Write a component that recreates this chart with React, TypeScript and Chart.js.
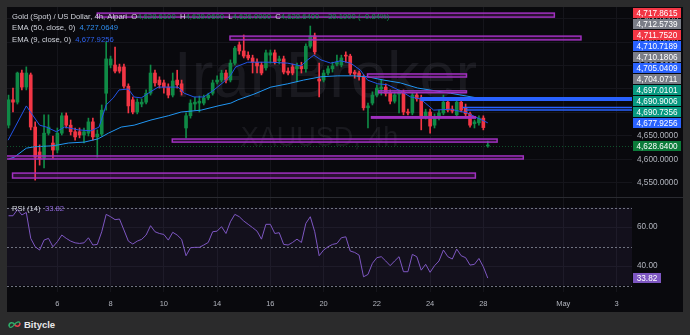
import React, { useEffect, useRef } from "react";
import { Chart, registerables } from "chart.js";

Chart.register(...registerables);

// ---------------- data ----------------
const FIRST_BAR = -11; // bar index of the first visible 4h candle (bar 0 = Apr 6, 00:00)

const opens = [
  4673, 4727, 4722, 4784, 4754, 4780, 4669, 4616, 4603, 4656, 4635,
  4620, 4656, 4693, 4673, 4659, 4659, 4652, 4656, 4680, 4648, 4654,
  4741, 4801, 4801, 4797, 4797, 4756, 4727, 4701, 4718, 4722, 4741,
  4784, 4769, 4763, 4754, 4737, 4769, 4761, 4667, 4693, 4718, 4720,
  4720, 4731, 4741, 4765, 4769, 4784, 4769, 4805, 4844, 4831, 4822,
  4816, 4807, 4801, 4795, 4822, 4827, 4810, 4814, 4788, 4797, 4793,
  4799, 4793, 4841, 4863, 4771, 4769, 4784, 4793, 4803, 4801, 4822,
  4820, 4786, 4784, 4776, 4710, 4720, 4737, 4750, 4754, 4741, 4724,
  4739, 4744, 4701, 4699, 4737, 4731, 4690, 4701, 4673, 4690, 4699,
  4722, 4707, 4695, 4722, 4710, 4697, 4676, 4678, 4688, 4628.61,
];
const highs = [
  4737, 4752, 4786, 4790, 4797, 4784, 4680, 4631, 4695, 4695, 4650,
  4667, 4699, 4699, 4684, 4667, 4667, 4667, 4688, 4688, 4663, 4716,
  4850, 4820, 4839, 4803, 4803, 4761, 4733, 4729, 4729, 4748, 4801,
  4790, 4776, 4769, 4761, 4784, 4790, 4769, 4699, 4727, 4733, 4735,
  4737, 4741, 4769, 4778, 4790, 4790, 4812, 4841, 4850, 4865, 4829,
  4822, 4814, 4807, 4833, 4833, 4833, 4820, 4820, 4795, 4803, 4805,
  4807, 4846, 4884, 4869, 4805, 4790, 4799, 4807, 4822, 4822, 4829,
  4824, 4790, 4788, 4780, 4720, 4744, 4759, 4769, 4761, 4748, 4744,
  4748, 4748, 4707, 4741, 4741, 4737, 4707, 4707, 4697, 4705, 4737,
  4727, 4714, 4729, 4727, 4718, 4701, 4684, 4693, 4693, 4639.06,
];
const lows = [
  4667, 4701, 4718, 4748, 4748, 4663, 4556, 4588, 4582, 4652, 4603,
  4614, 4652, 4667, 4652, 4641, 4646, 4635, 4650, 4641, 4605, 4650,
  4705, 4795, 4784, 4784, 4752, 4699, 4697, 4697, 4712, 4718, 4737,
  4756, 4752, 4741, 4731, 4733, 4752, 4737, 4646, 4688, 4705, 4701,
  4716, 4727, 4737, 4761, 4765, 4763, 4765, 4801, 4824, 4816, 4812,
  4784, 4784, 4780, 4790, 4805, 4803, 4803, 4782, 4780, 4780, 4765,
  4784, 4786, 4837, 4824, 4733, 4765, 4780, 4786, 4799, 4797, 4807,
  4780, 4773, 4769, 4705, 4667, 4716, 4733, 4737, 4735, 4718, 4720,
  4699, 4695, 4695, 4695, 4724, 4663, 4686, 4656, 4667, 4684, 4695,
  4701, 4699, 4688, 4701, 4693, 4669, 4667, 4673, 4663, 4626,
];
const closes = [
  4727, 4722, 4784, 4754, 4784, 4669, 4605, 4601, 4656, 4669, 4620,
  4656, 4693, 4673, 4659, 4648, 4652, 4659, 4680, 4648, 4654, 4705,
  4814, 4814, 4788, 4788, 4756, 4714, 4701, 4722, 4722, 4741, 4784,
  4763, 4759, 4754, 4737, 4767, 4759, 4744, 4693, 4720, 4722, 4724,
  4731, 4737, 4763, 4769, 4784, 4769, 4805, 4837, 4831, 4820, 4816,
  4807, 4799, 4784, 4827, 4827, 4807, 4814, 4786, 4784, 4784, 4799,
  4793, 4841, 4863, 4829, 4767, 4784, 4793, 4799, 4807, 4816, 4820,
  4784, 4782, 4776, 4710, 4714, 4737, 4752, 4754, 4741, 4724, 4737,
  4744, 4701, 4699, 4737, 4729, 4688, 4701, 4671, 4690, 4699, 4722,
  4705, 4703, 4722, 4705, 4697, 4673, 4680, 4688, 4667.8, 4628.64,
];

const rsiValues = [
  65.8, 65.8, 69.0, 66.2, 67.5, 54.2, 49.9, 48.2, 53.3, 54.2, 49.9,
  52.5, 55.9, 54.2, 52.8, 51.9, 51.6, 51.9, 54.5, 50.8, 51.1, 57.6,
  66.5, 65.3, 63.8, 64.1, 58.5, 52.8, 51.3, 52.8, 53.7, 55.9, 60.7,
  57.6, 56.7, 56.2, 53.3, 57.3, 55.9, 53.7, 45.3, 49.4, 49.6, 49.6,
  50.8, 52.1, 57.6, 57.9, 60.2, 56.7, 62.7, 66.5, 65.3, 63.1, 61.4,
  59.7, 57.9, 53.8, 61.4, 61.4, 56.7, 57.1, 51.1, 50.8, 52.1, 53.8,
  52.1, 61.9, 65.3, 57.6, 45.3, 48.2, 49.9, 51.1, 51.6, 54.5, 55.0,
  47.7, 47.0, 45.6, 34.5, 35.7, 41.4, 44.3, 44.8, 42.6, 40.2, 42.6,
  44.8, 37.1, 37.1, 46.0, 44.8, 37.9, 40.9, 36.8, 40.2, 42.6, 48.2,
  44.8, 43.6, 48.7, 45.3, 44.3, 40.5, 40.9, 43.9, 39.6, 33.82,
];

const ema9Idx = [-11.1, -7.0, -4.0, -2.5, -0.2, 1.6, 4.7, 7.6, 9.4, 11.0, 12.6, 13.9, 16.0, 17.3, 18.9, 20.5, 22.7, 25.0, 27.2, 28.6, 30.8, 33.0, 35.3, 37.5, 39.1, 40.2, 42.9, 45.9, 48.1, 51.9, 54.9, 56.4, 57.8, 59.4, 61.6, 63.8, 66.1, 68.3, 69.9, 72.2, 74.4, 77.3, 79.6, 81.8, 84.8, 88.6, 92.4, 97];
const ema9Val = [4641, 4714, 4673, 4669, 4659, 4669, 4663, 4661, 4669, 4716, 4731, 4748, 4750, 4733, 4731, 4741, 4754, 4754, 4754, 4741, 4733, 4733, 4748, 4765, 4780, 4797, 4807, 4807, 4807, 4805, 4799, 4812, 4822, 4812, 4805, 4810, 4805, 4790, 4769, 4761, 4759, 4746, 4733, 4729, 4705, 4707, 4699, 4677.93];
const ema50Idx = [-11.0, -9.7, -7.0, -5.2, -1.3, 0.2, 2.5, 6.1, 9.2, 11.5, 14.4, 17.3, 21.1, 25.0, 27.9, 32.4, 36.2, 39.1, 40.7, 44.3, 48.1, 51.9, 55.5, 59.4, 63.2, 66.8, 69.9, 73.5, 77.3, 81.2, 88.6, 97];
const ema50Val = [4601, 4605, 4624, 4627, 4629, 4631, 4635, 4637, 4644, 4656, 4669, 4673, 4684, 4693, 4701, 4705, 4714, 4720, 4727, 4739, 4754, 4761, 4769, 4776, 4778, 4778, 4776, 4769, 4763, 4752, 4741, 4727.06];

const timeTickIdx = [0, 12, 24, 36, 48, 60, 72, 84, 96, 114, 126];
const timeTickLabels = ["6", "8", "10", "14", "16", "20", "22", "24", "28", "May", "3"];
const priceTicks = [4550, 4600, 4650, 4700, 4750, 4800, 4850, 4900];
const rsiTicks = [40, 60];
const rsiLevels = [70, 50, 30];

// purple zones drawn on the chart (bar index range, price range)
const zoneStart = [9.0, 38.9, 69.9, 72.4, 70.8, 25.9, -11.6, -10.1];
const zoneEnd = [112.0, 118.0, 92.2, 92.2, 94.2, 99.1, 105.0, 94.2];
const zoneTop = [4911.5, 4862.5, 4782, 4746, 4691, 4643.5, 4607.5, 4571];
const zoneBottom = [4903, 4854.5, 4775.5, 4742, 4688, 4637, 4601, 4560.5];

// blue horizontal rays
const rayPrice = [4731, 4726.5, 4710.72, 4705.04];
const rayStart = [81.8, 81.8, 91.3, 92.0];

// price-axis labels
const axisLabelPrices = [4717.8615, 4712.5739, 4711.752, 4710.7189, 4710.1806, 4705.0409, 4704.0711, 4697.0101, 4690.9006, 4690.7356, 4677.9256, 4628.64];
const axisLabelColors = ["#f23645", "#7a7d87", "#f23645", "#2962ff", "#7a7d87", "#2962ff", "#7a7d87", "#089981", "#089981", "#089981", "#2962ff", "#0c7b3a"];
const lastPrice = 4628.64;
const lastRsi = 33.82;

// ---------------- style ----------------
const FONT = '"Liberation Sans", Arial, sans-serif';
const UP = "#0f8a46";
const DOWN = "#f23645";
const GRID = "#15151b";
const TXT = "#b2b5be";
const X_MIN = -11.35;
const X_MAX = 129.5;
const P_MIN = 4518;
const P_MAX = 4924.5;
const R_MIN = 26.7;
const R_MAX = 74.9;

const fmt4 = (v: number) =>
  v.toLocaleString("en-US", { minimumFractionDigits: 4, maximumFractionDigits: 4 });

const bars = closes.map((_, k) => FIRST_BAR + k);
const candleColors = closes.map((c, k) => (c >= opens[k] ? UP : DOWN));

function drawRuns(ctx: CanvasRenderingContext2D, runs: [string, string][], x: number, y: number) {
  let cx = x;
  for (const [t, c] of runs) {
    ctx.fillStyle = c;
    ctx.fillText(t, cx, y);
    cx += ctx.measureText(t).width;
  }
}

const zeroPad = (s: any) => {
  s.paddingTop = 0;
  s.paddingBottom = 0;
  s.paddingLeft = 0;
  s.paddingRight = 0;
};

const priceOverlay = {
  id: "priceOverlay",
  beforeDatasetsDraw(chart: any) {
    const { ctx, chartArea: a } = chart;
    ctx.save();
    ctx.beginPath();
    ctx.rect(a.left, a.top, a.width, a.height);
    ctx.clip();
    ctx.fillStyle = "rgba(140,142,155,0.13)";
    ctx.textAlign = "center";
    ctx.textBaseline = "alphabetic";
    const cx = (a.left + a.right) / 2 + 6;
    ctx.font = `65px ${FONT}`;
    ctx.fillText("IranBroker", cx, a.top + 90);
    ctx.font = `27px ${FONT}`;
    ctx.fillText("XAUUSD, 4h", cx - 6, a.top + 139);
    ctx.restore();
  },
  afterDatasetsDraw(chart: any) {
    const { ctx, chartArea: a, scales } = chart;
    const xs = scales.x;
    const ys = scales.y;
    ctx.save();
    ctx.beginPath();
    ctx.rect(a.left, a.top, a.width, a.height);
    ctx.clip();
    // current price dotted line
    const yl = Math.round(ys.getPixelForValue(lastPrice)) + 0.5;
    ctx.strokeStyle = "rgba(20,140,70,0.55)";
    ctx.lineWidth = 1;
    ctx.setLineDash([1, 2]);
    ctx.beginPath();
    ctx.moveTo(a.left, yl);
    ctx.lineTo(a.right, yl);
    ctx.stroke();
    ctx.setLineDash([]);
    // zones
    for (let k = 0; k < zoneStart.length; k++) {
      const x1 = xs.getPixelForValue(zoneStart[k]);
      const x2 = xs.getPixelForValue(zoneEnd[k]);
      const y1 = ys.getPixelForValue(zoneTop[k]);
      const y2 = ys.getPixelForValue(zoneBottom[k]);
      ctx.fillStyle = "rgba(156,39,176,0.22)";
      ctx.fillRect(x1, y1, x2 - x1, y2 - y1);
      ctx.strokeStyle = "#a030bf";
      ctx.lineWidth = 1.5;
      ctx.strokeRect(x1, y1, x2 - x1, y2 - y1);
    }
    // blue rays
    ctx.strokeStyle = "#2962ff";
    for (let k = 0; k < rayPrice.length; k++) {
      const y = ys.getPixelForValue(rayPrice[k]);
      ctx.lineWidth = k < 2 ? 2 : 1.5;
      ctx.beginPath();
      ctx.moveTo(xs.getPixelForValue(rayStart[k]), y);
      ctx.lineTo(a.right, y);
      ctx.stroke();
    }
    ctx.restore();
  },
  afterDraw(chart: any) {
    const { ctx, chartArea: a, scales } = chart;
    const ys = scales.y;
    ctx.save();
    // axis labels (stacked so they do not overlap)
    const items = axisLabelPrices
      .map((p, k) => ({ p, c: axisLabelColors[k], y: ys.getPixelForValue(p) }))
      .sort((m, n) => n.p - m.p);
    for (let k = items.length - 2; k >= 0; k--) items[k].y = Math.min(items[k].y, items[k + 1].y - 11);
    ctx.font = `8.2px ${FONT}`;
    ctx.textAlign = "center";
    ctx.textBaseline = "middle";
    for (const it of items) {
      ctx.fillStyle = it.c;
      ctx.fillRect(a.right + 1, Math.round(it.y - 5), 48, 10);
      ctx.fillStyle = "#ffffff";
      ctx.fillText(fmt4(it.p), a.right + 25, Math.round(it.y) + 0.5);
    }
    // legend
    ctx.textAlign = "left";
    ctx.font = `7.7px ${FONT}`;
    const G = "#0e8f4f";
    const T = "#d1d4dc";
    drawRuns(ctx, [
      ["Gold (Spot) / US Dollar, 4h, Alpari", T],
      ["  O", T], [fmt4(opens[opens.length - 1]), G],
      ["  H", T], [fmt4(highs[highs.length - 1]), G],
      ["  L", T], [fmt4(lows[lows.length - 1]), G],
      ["  C", T], [fmt4(closes[closes.length - 1]), G],
      ["  \u221239.1900 (\u22120.84%)", G],
    ], 5, 9.5);
    drawRuns(ctx, [["EMA (50, close, 0)  ", T], [fmt4(ema50Val[ema50Val.length - 1] + 0.0049), "#2f8ff0"]], 5, 21);
    drawRuns(ctx, [["EMA (9, close, 0)  ", T], [fmt4(ema9Val[ema9Val.length - 1] - 0.0044), "#2d62f0"]], 5, 32.5);
    ctx.restore();
  },
};

const rsiOverlay = {
  id: "rsiOverlay",
  beforeDatasetsDraw(chart: any) {
    const { ctx, chartArea: a, scales } = chart;
    const ys = scales.y;
    ctx.save();
    const yTop = ys.getPixelForValue(rsiLevels[0]);
    const yBot = ys.getPixelForValue(rsiLevels[2]);
    ctx.fillStyle = "rgba(126,87,194,0.09)";
    ctx.fillRect(a.left, yTop, a.width, yBot - yTop);
    ctx.strokeStyle = "#6f7280";
    ctx.lineWidth = 1;
    ctx.setLineDash([2, 2]);
    for (const lv of rsiLevels) {
      const y = Math.round(ys.getPixelForValue(lv)) + 0.5;
      ctx.beginPath();
      ctx.moveTo(a.left, y);
      ctx.lineTo(a.right, y);
      ctx.stroke();
    }
    ctx.restore();
  },
  afterDraw(chart: any) {
    const { ctx, chartArea: a, scales } = chart;
    const ys = scales.y;
    ctx.save();
    const y = ys.getPixelForValue(lastRsi);
    ctx.fillStyle = "#7e57c2";
    ctx.fillRect(a.right + 1, Math.round(y - 5), 28, 10);
    ctx.fillStyle = "#ffffff";
    ctx.font = `8.2px ${FONT}`;
    ctx.textAlign = "center";
    ctx.textBaseline = "middle";
    ctx.fillText(lastRsi.toFixed(2), a.right + 15, Math.round(y) + 0.5);
    ctx.textAlign = "left";
    ctx.font = `7.7px ${FONT}`;
    drawRuns(ctx, [["RSI (14)  ", "#d1d4dc"], [lastRsi.toFixed(2), "#8a63d2"]], 5, 10.5);
    ctx.restore();
  },
};

export default function App() {
  const priceRef = useRef<HTMLCanvasElement>(null);
  const rsiRef = useRef<HTMLCanvasElement>(null);

  useEffect(() => {
    const xAxisBase = {
      type: "linear" as const,
      min: X_MIN,
      max: X_MAX,
      offset: false,
      grid: { color: GRID, drawTicks: false, offset: false },
      border: { display: false },
      afterBuildTicks: (s: any) => {
        s.ticks = timeTickIdx.map((v) => ({ value: v }));
      },
    };
    const priceChart = new Chart(priceRef.current!, {
      type: "bar",
      data: {
        datasets: [
          {
            type: "line",
            data: ema9Idx.map((x, k) => ({ x, y: ema9Val[k] })),
            borderColor: "#2255e8",
            borderWidth: 1,
            pointRadius: 0,
            tension: 0,
          } as any,
          {
            type: "line",
            data: ema50Idx.map((x, k) => ({ x, y: ema50Val[k] })),
            borderColor: "#2196f3",
            borderWidth: 1,
            pointRadius: 0,
            tension: 0,
          } as any,
          {
            type: "bar",
            data: bars.map((x, k) => ({ x, y: [opens[k], closes[k]] })),
            backgroundColor: candleColors,
            barThickness: 3,
            grouped: false,
            minBarLength: 1,
            borderWidth: 0,
          } as any,
          {
            type: "bar",
            data: bars.map((x, k) => ({ x, y: [lows[k], highs[k]] })),
            backgroundColor: candleColors,
            barThickness: 1,
            grouped: false,
            borderWidth: 0,
          } as any,
        ],
      },
      options: {
        animation: false,
        responsive: false,
        events: [],
        layout: { padding: 0, autoPadding: false },
        plugins: { legend: { display: false }, tooltip: { enabled: false } },
        scales: {
          x: {
            ...xAxisBase,
            ticks: { display: false },
            afterFit: (s: any) => {
              s.height = 0;
              zeroPad(s);
            },
          } as any,
          y: {
            type: "linear",
            position: "right",
            min: P_MIN,
            max: P_MAX,
            grid: { color: GRID, drawTicks: false },
            border: { display: false },
            ticks: {
              color: TXT,
              padding: 5,
              autoSkip: false,
              font: { family: FONT, size: 8.2 },
              callback: (v: any) => fmt4(Number(v)),
            },
            afterBuildTicks: (s: any) => {
              s.ticks = priceTicks.map((v) => ({ value: v }));
            },
            afterFit: (s: any) => {
              s.width = 51;
              zeroPad(s);
            },
          } as any,
        },
      } as any,
      plugins: [priceOverlay],
    });

    const rsiChart = new Chart(rsiRef.current!, {
      type: "line",
      data: {
        datasets: [
          {
            data: bars.map((x, k) => ({ x, y: rsiValues[k] })),
            borderColor: "#7e57c2",
            borderWidth: 1,
            pointRadius: 0,
            tension: 0,
          },
        ],
      },
      options: {
        animation: false,
        responsive: false,
        events: [],
        layout: { padding: 0, autoPadding: false },
        plugins: { legend: { display: false }, tooltip: { enabled: false } },
        scales: {
          x: {
            ...xAxisBase,
            ticks: {
              color: TXT,
              padding: 7,
              autoSkip: false,
              maxRotation: 0,
              font: { family: FONT, size: 7.5 },
              callback: (v: any) => {
                const k = timeTickIdx.indexOf(Number(v));
                return k >= 0 ? timeTickLabels[k] : "";
              },
            },
            afterFit: (s: any) => {
              s.height = 20;
              zeroPad(s);
            },
          } as any,
          y: {
            type: "linear",
            position: "right",
            min: R_MIN,
            max: R_MAX,
            grid: { color: GRID, drawTicks: false },
            border: { display: false },
            ticks: {
              color: TXT,
              padding: 5,
              autoSkip: false,
              font: { family: FONT, size: 8.2 },
              callback: (v: any) => Number(v).toFixed(2),
            },
            afterBuildTicks: (s: any) => {
              s.ticks = rsiTicks.map((v) => ({ value: v }));
            },
            afterFit: (s: any) => {
              s.width = 51;
              zeroPad(s);
            },
          } as any,
        },
      } as any,
      plugins: [rsiOverlay],
    });

    return () => {
      priceChart.destroy();
      rsiChart.destroy();
    };
  }, []);

  return (
    <div style={{ position: "fixed", left: 0, top: 0, width: 690, height: 335, background: "#2b2b2c", overflow: "hidden" }}>
      <div style={{ position: "absolute", left: 7, top: 7, width: 676, height: 305, background: "#09090d" }} />
      <canvas ref={priceRef} width={676} height={191} style={{ position: "absolute", left: 7, top: 7, width: 676, height: 191 }} />
      <div style={{ position: "absolute", left: 7, top: 197, width: 676, height: 1, background: "#2a2b31" }} />
      <canvas ref={rsiRef} width={676} height={114} style={{ position: "absolute", left: 7, top: 198, width: 676, height: 114 }} />
      <div style={{ position: "absolute", left: 8, top: 318, height: 12, display: "flex", alignItems: "center", gap: 3 }}>
        <svg width="13" height="9" viewBox="0 0 13 9">
          <path d="M1 6 C1 2, 5 2, 6.5 4.5" stroke="#2fae6a" strokeWidth="1.6" fill="none" />
          <path d="M6.5 4.5 C8 7, 12 7, 12 3" stroke="#e0404a" strokeWidth="1.6" fill="none" />
          <path d="M1 6 C1.5 8, 4 8, 6.5 4.5 C8 2, 11 1, 12 3" stroke="#2fae6a" strokeWidth="1.2" fill="none" />
        </svg>
        <span style={{ fontFamily: FONT, fontWeight: 700, fontSize: 9.5, color: "#e8e8ea" }}>Bitycle</span>
      </div>
    </div>
  );
}
